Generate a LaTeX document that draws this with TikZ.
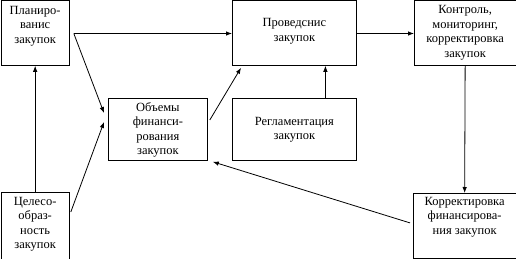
\documentclass[tikz,border=0pt]{standalone}
\usepackage{fontspec}
\setmainfont{Liberation Serif}
\newfontfamily\tmsfont{Liberation Serif}
\usetikzlibrary{arrows.meta,calc}
\begin{document}
\begin{tikzpicture}[x=1pt,y=-1pt,
  box/.style={draw=black,line width=0.8pt,inner sep=0pt,anchor=north west},
  txt/.style={font=\tmsfont\fontsize{12.5}{14.5}\selectfont,align=center,inner sep=0pt,anchor=north},
  arr/.style={draw=black,line width=0.8pt,-{Latex[length=6pt,width=4.5pt]}}]
\useasboundingbox (0,0) rectangle (516,259);
% boxes
\node[box,minimum width=68.5pt,minimum height=64.5pt] (plan) at (0.5,0.5) {};
\node[box,minimum width=124pt,minimum height=64.5pt] (prov) at (232,0.5) {};
\node[box,minimum width=101.5pt,minimum height=64.5pt] (kont) at (414,0.5) {};
\node[box,minimum width=99pt,minimum height=62pt] (obj) at (108,98) {};
\node[box,minimum width=124pt,minimum height=62pt] (regl) at (232,98) {};
\node[box,minimum width=68.5pt,minimum height=66.5pt] (cel) at (0.5,192) {};
\node[box,minimum width=102.5pt,minimum height=65pt] (korr) at (413,193) {};
% texts (first baseline = offset + 9)
\node[txt] (tplan) at ($(plan.north)+(0,4.5)$) {\rule{0pt}{9pt}Планиро-\\ванис\\закупок};
\node[txt] (tprov) at ($(prov.north)+(0,17)$) {\rule{0pt}{9pt}Проведснис\\закупок};
\node[txt] (tkont) at ($(kont.north)+(0,4)$) {\rule{0pt}{9pt}Контроль,\\мониторинг,\\корректировка\\закупок};
\node[txt] (tobj) at ($(obj.north)+(0,4)$) {\rule{0pt}{9pt}Объемы\\финанси-\\рования\\закупок};
\node[txt] (tregl) at ($(regl.north)+(0,18)$) {\rule{0pt}{9pt}Регламентация\\закупок};
\node[txt] (tcel) at ($(cel.north)+(0,4)$) {\rule{0pt}{9pt}Целесо-\\образ-\\ность\\закупок};
\node[txt] (tkorr) at ($(korr.north)+(0,3)$) {\rule{0pt}{9pt}Корректировка\\финансирова-\\ния закупок};
% connectors
\coordinate (ps) at ($(plan.north east)+(4,33)$);
\draw[arr] (ps) -- (prov.west |- ps);
\draw[arr] (ps) -- ($(obj.north west)+(-4,15)$);
\draw[arr] ($(cel.north east)+(1,20)$) -- ($(obj.north west)+(-4,24)$);
\draw[arr] ($(obj.north east)+(2,22)$) -- ($(prov.south west)+(9,2)$);
\draw[arr] ($(regl.north)+(31,0)$) -- ($(prov.south)+(31,0)$);
\draw[arr] (prov.east |- ps) -- (kont.west |- ps);
\draw[arr] (kont.south) -- (korr.north);
\draw[arr] ($(korr.west)+(-3,-3)$) -- ($(obj.south east)+(5,1)$);
\draw[arr] (cel.north) -- (plan.south);
\end{tikzpicture}
\end{document}
